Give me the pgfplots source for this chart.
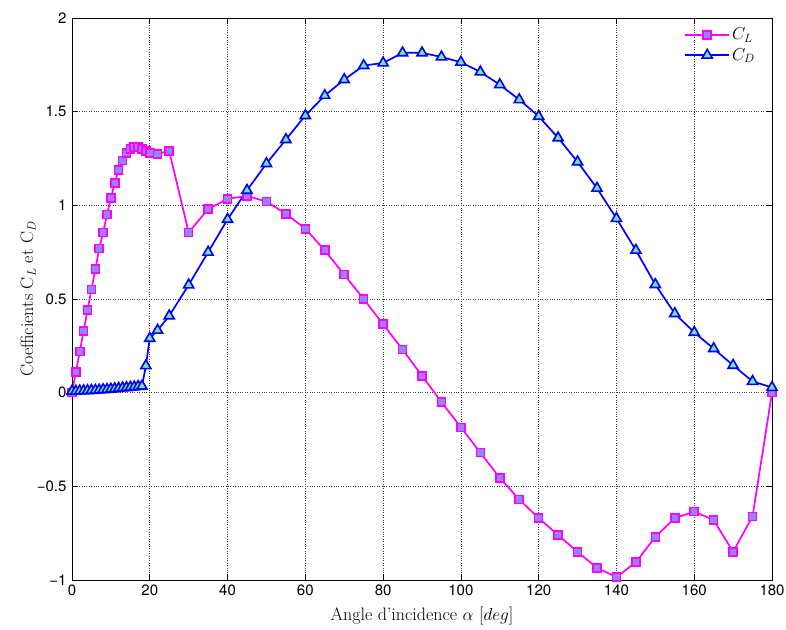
\documentclass[border=0pt]{standalone}
\usepackage{fontspec}
\usepackage{pgfplots}
\pgfplotsset{compat=1.18}
\newfontfamily\helv{TeX Gyre Heros}
\definecolor{clline}{rgb}{1,0,1}
\definecolor{clfill}{rgb}{0.58,0.52,0.96}
\definecolor{cdline}{rgb}{0,0,1}
\definecolor{cdfill}{rgb}{0.47,0.9,0.6}

% CL and CD against angle of incidence (deg)
\pgfplotstableread{
a cl
0 0
1 0.11
2 0.22
3 0.33
4 0.44
5 0.55
6 0.66
7 0.77
8 0.855
9 0.95
10 1.04
11 1.12
12 1.19
13 1.24
14 1.28
15 1.30
16 1.31
17 1.31
18 1.30
19 1.29
20 1.28
22 1.275
25 1.29
30 0.855
35 0.98
40 1.035
45 1.05
50 1.02
55 0.955
60 0.875
65 0.76
70 0.63
75 0.50
80 0.365
85 0.23
90 0.09
95 -0.05
100 -0.185
105 -0.32
110 -0.455
115 -0.57
120 -0.67
125 -0.76
130 -0.85
135 -0.935
140 -0.985
145 -0.905
150 -0.77
155 -0.67
160 -0.635
165 -0.68
170 -0.85
175 -0.66
180 0
}\cltable

\pgfplotstableread{
a cd
0 0.008
1 0.008
2 0.009
3 0.010
4 0.011
5 0.012
6 0.013
7 0.014
8 0.016
9 0.017
10 0.019
11 0.021
12 0.023
13 0.025
14 0.027
15 0.029
16 0.031
17 0.033
18 0.035
19 0.144
20 0.29
22 0.333
25 0.41
30 0.575
35 0.75
40 0.925
45 1.08
50 1.223
55 1.351
60 1.479
65 1.586
70 1.671
75 1.746
80 1.76
85 1.814
90 1.814
95 1.792
100 1.764
105 1.712
110 1.644
115 1.564
120 1.475
125 1.36
130 1.232
135 1.091
140 0.93
145 0.76
150 0.577
155 0.422
160 0.322
165 0.235
170 0.146
175 0.06
180 0.028
}\cdtable

\begin{document}
\begin{tikzpicture}
\begin{axis}[
    scale only axis,
    width=700pt, height=562pt,
    xmin=0, xmax=180, ymin=-1, ymax=2,
    xtick={0,20,...,180},
    ytick={-1,-0.5,0,0.5,1,1.5,2},
    xticklabels={0,20,40,60,80,100,120,140,160,180},
    yticklabels={−1,−0.5,0,0.5,1,1.5,2},
    tick label style={font=\helv\fontsize{15}{17}\selectfont},
    xticklabel style={yshift=-1pt},
    yticklabel style={xshift=-2pt},
    tick align=inside,
    major tick length=6pt,
    tick style={black, line width=0.6pt},
    grid=major,
    grid style={black!75, dotted, line width=0.6pt},
    axis line style={line width=0.8pt},
    label style={font=\fontsize{18}{20}\selectfont},
    xlabel={Angle d'incidence $\alpha$ [$deg$]},
    ylabel={Coefficients C$_L$ et C$_D$},
    xlabel style={at={(axis description cs:0.5,-0.0712)}, anchor=base},
    ylabel style={at={(axis description cs:-0.0557,0.5)}, anchor=base},
    legend style={at={(1,1)}, anchor=north east, xshift=-14pt, yshift=-7pt,
        draw=none, fill=none, font=\fontsize{18}{20}\selectfont, row sep=3pt,
        inner sep=1pt},
    legend cell align=left,
    legend image code/.code={
        \draw[mark repeat=2, mark phase=2] plot coordinates {(0pt,0pt) (22pt,0pt) (44pt,0pt)};
    },
]
\addplot[clline, line width=1.7pt, mark=square*, mark size=4pt,
    mark options={fill=clfill, draw=clline, line width=1.6pt}]
    table[x=a, y=cl] {\cltable};
\addlegendentry{$C_L$}
\addplot[cdline, line width=1.7pt, mark=triangle*, mark size=5.8pt,
    mark options={fill=cdfill, draw=cdline, line width=1.6pt}]
    table[x=a, y=cd] {\cdtable};
\addlegendentry{$C_D$}
\end{axis}
\pgfresetboundingbox
\path[use as bounding box] ([shift={(-72pt,-50pt)}]current axis.south west)
    rectangle ([shift={(14pt,18pt)}]current axis.north east);
\end{tikzpicture}
\end{document}
